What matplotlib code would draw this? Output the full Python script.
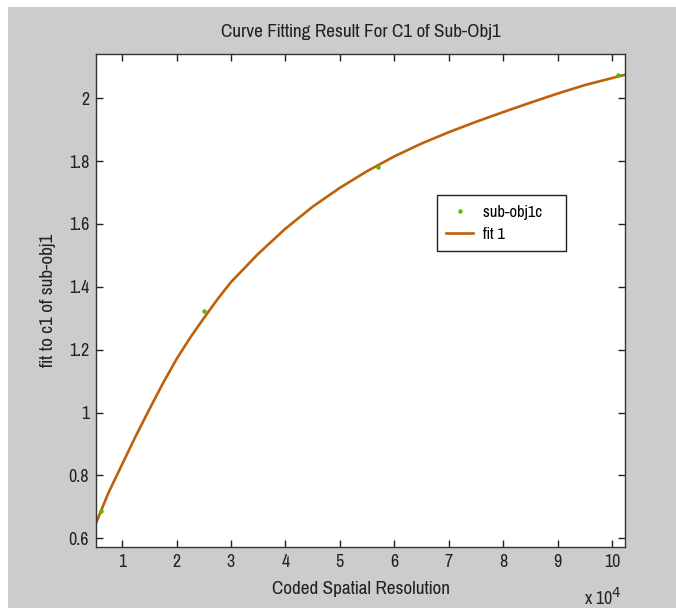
import matplotlib
matplotlib.use("Agg")
import matplotlib.pyplot as plt
from matplotlib.patches import Rectangle

plt.rcParams['font.family'] = ['Pragati Narrow', 'Roboto Condensed', 'DejaVu Sans']

# data points (x in units of 10^4)
pts_x = [0.614, 2.513, 5.693, 10.11]
pts_y = [0.685, 1.323, 1.780, 2.073]

# fitted curve
fit_x = [0.52, 0.75, 1.0, 1.25, 1.5, 1.75, 2.0, 2.25, 2.5, 2.75, 3.0, 3.5, 4.0,
         4.5, 5.0, 5.5, 6.0, 6.5, 7.0, 7.5, 8.0, 8.5, 9.0, 9.5, 10.24]
fit_y = [0.648, 0.745, 0.835, 0.925, 1.01, 1.093, 1.17, 1.238, 1.30, 1.36, 1.415, 1.505, 1.585,
         1.655, 1.715, 1.768, 1.815, 1.856, 1.892, 1.925, 1.956, 1.986, 2.015, 2.042, 2.075]

xticks = [1, 2, 3, 4, 5, 6, 7, 8, 9, 10]
yticks = [0.6, 0.8, 1.0, 1.2, 1.4, 1.6, 1.8, 2.0]
ytick_labels = ['0.6', '0.8', '1', '1.2', '1.4', '1.6', '1.8', '2']

fig = plt.figure(figsize=(6.76, 6.08), dpi=100, facecolor='white')
# gray matlab-like figure background
fig.patches.append(Rectangle((8 / 676, 0), 1, 1 - 7 / 608, transform=fig.transFigure,
                             facecolor='#cccccc', edgecolor='none', zorder=-10))

ax = fig.add_axes([96 / 676, 1 - 547 / 608, 529 / 676, 493 / 608])
ax.set_facecolor('white')

ax.plot(fit_x, fit_y, color='#bf600a', lw=1.9, label='fit 1', zorder=2)
ax.plot(pts_x, pts_y, linestyle='none', marker='o', ms=3.2, color='#5cb800',
        markeredgewidth=0, label='sub-obj1c', zorder=3)

ax.set_xlim(0.52, 10.24)
ax.set_ylim(0.572, 2.141)
ax.set_xticks(xticks)
ax.set_yticks(yticks)
ax.set_yticklabels(ytick_labels)
ax.tick_params(direction='in', length=5, width=1, top=True, right=True,
               labelsize=14, colors='#222222', pad=5)
for s in ax.spines.values():
    s.set_color('#333333')
    s.set_linewidth(1)

ax.set_title('Curve Fitting Result For C1 of Sub-Obj1', fontsize=15, pad=12, color='#222222')
ax.set_xlabel('Coded Spatial Resolution', fontsize=15, color='#222222', labelpad=8)
ax.set_ylabel('fit to c1 of sub-obj1', fontsize=15, color='#222222', labelpad=9)
fig.text(603 / 676, 1 - 597 / 608, r'x 10$^4$', fontsize=14, color='#222222',
         ha='center', va='center')

h, l = ax.get_legend_handles_labels()
# matlab legend leaves extra room on the right of the labels
leg = ax.legend([h[1], h[0]], [l[1] + '    ', l[0]], loc='center left',
                bbox_to_anchor=((437 - 96) / 529, 0.657),
                fancybox=False, framealpha=1, edgecolor='#222222', fontsize=13,
                handlelength=1.5, handletextpad=0.55, borderpad=0.5, labelspacing=0.35,
                borderaxespad=0)
leg.get_frame().set_linewidth(1)

fig.savefig('out.png', dpi=100, facecolor=fig.get_facecolor())
